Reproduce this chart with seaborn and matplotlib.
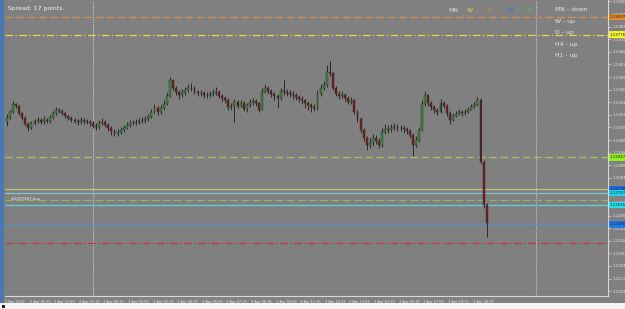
import matplotlib
matplotlib.use("Agg")
import matplotlib.pyplot as plt
import matplotlib.transforms as mtrans
from matplotlib.patches import Rectangle
import seaborn as sns
import pandas as pd

# ---------------- data ----------------
first_open = 1.13187
close = [1.13214, 1.13254, 1.13308, 1.13295, 1.13247, 1.13214, 1.13173, 1.13146, 1.13180, 1.13193,
         1.13200, 1.13187, 1.13200, 1.13193, 1.13220, 1.13247, 1.13268, 1.13261, 1.13247, 1.13227,
         1.13214, 1.13200, 1.13193, 1.13187, 1.13200, 1.13193, 1.13187, 1.13180, 1.13160, 1.13153,
         1.13180, 1.13187, 1.13166, 1.13146, 1.13126, 1.13106, 1.13119, 1.13133, 1.13146, 1.13166,
         1.13180, 1.13180, 1.13187, 1.13193, 1.13193, 1.13207, 1.13220, 1.13254, 1.13281, 1.13254,
         1.13281, 1.13308, 1.13362, 1.13470, 1.13416, 1.13389, 1.13369, 1.13382, 1.13403, 1.13416,
         1.13416, 1.13389, 1.13382, 1.13380, 1.13369, 1.13366, 1.13376, 1.13382, 1.13389, 1.13362,
         1.13349, 1.13335, 1.13288, 1.13295, 1.13322, 1.13295, 1.13315, 1.13274, 1.13301, 1.13322,
         1.13325, 1.13315, 1.13268, 1.13389, 1.13416, 1.13396, 1.13376, 1.13362, 1.13349, 1.13396,
         1.13389, 1.13382, 1.13376, 1.13369, 1.13355, 1.13342, 1.13335, 1.13315, 1.13301, 1.13288,
         1.13281, 1.13376, 1.13416, 1.13436, 1.13524, 1.13520, 1.13416, 1.13376, 1.13362, 1.13369,
         1.13349, 1.13322, 1.13335, 1.13254, 1.13207, 1.13133, 1.13079, 1.13031, 1.13045, 1.13079,
         1.13058, 1.13031, 1.13119, 1.13139, 1.13133, 1.13146, 1.13153, 1.13146, 1.13149, 1.13139,
         1.13126, 1.13099, 1.13031, 1.13065, 1.13133, 1.13308, 1.13369, 1.13315, 1.13288, 1.13268,
         1.13254, 1.13315, 1.13295, 1.13247, 1.13200, 1.13227, 1.13241, 1.13254, 1.13247, 1.13254,
         1.13268, 1.13288, 1.13301, 1.13335, 1.12917, 1.12626, 1.12505]
high = [1.13241, 1.13268, 1.13328, 1.13315, 1.13301, 1.13254, 1.13227, 1.13187, 1.13193, 1.13207,
        1.13220, 1.13214, 1.13227, 1.13214, 1.13234, 1.13261, 1.13288, 1.13281, 1.13274, 1.13254,
        1.13234, 1.13227, 1.13214, 1.13207, 1.13220, 1.13214, 1.13207, 1.13200, 1.13193, 1.13180,
        1.13200, 1.13214, 1.13200, 1.13180, 1.13160, 1.13139, 1.13139, 1.13153, 1.13166, 1.13187,
        1.13200, 1.13200, 1.13207, 1.13214, 1.13220, 1.13227, 1.13241, 1.13274, 1.13308, 1.13295,
        1.13301, 1.13335, 1.13389, 1.13490, 1.13477, 1.13430, 1.13403, 1.13409, 1.13423, 1.13443,
        1.13450, 1.13430, 1.13403, 1.13403, 1.13396, 1.13389, 1.13396, 1.13409, 1.13423, 1.13403,
        1.13376, 1.13362, 1.13349, 1.13315, 1.13342, 1.13335, 1.13335, 1.13328, 1.13315, 1.13342,
        1.13349, 1.13342, 1.13322, 1.13416, 1.13443, 1.13430, 1.13409, 1.13389, 1.13376, 1.13416,
        1.13470, 1.13409, 1.13403, 1.13396, 1.13382, 1.13369, 1.13362, 1.13342, 1.13328, 1.13315,
        1.13308, 1.13403, 1.13443, 1.13463, 1.13571, 1.13598, 1.13524, 1.13430, 1.13396, 1.13396,
        1.13382, 1.13362, 1.13355, 1.13342, 1.13268, 1.13220, 1.13146, 1.13092, 1.13079, 1.13106,
        1.13099, 1.13079, 1.13146, 1.13173, 1.13166, 1.13173, 1.13180, 1.13173, 1.13166, 1.13166,
        1.13153, 1.13139, 1.13112, 1.13092, 1.13153, 1.13335, 1.13396, 1.13376, 1.13328, 1.13301,
        1.13281, 1.13342, 1.13328, 1.13308, 1.13261, 1.13247, 1.13261, 1.13274, 1.13268, 1.13274,
        1.13288, 1.13308, 1.13322, 1.13355, 1.13349, 1.12930, 1.12640]
low = [1.13160, 1.13207, 1.13247, 1.13281, 1.13234, 1.13200, 1.13160, 1.13126, 1.13139, 1.13166,
       1.13180, 1.13173, 1.13173, 1.13180, 1.13180, 1.13207, 1.13234, 1.13247, 1.13234, 1.13214,
       1.13200, 1.13187, 1.13180, 1.13166, 1.13173, 1.13173, 1.13173, 1.13160, 1.13146, 1.13133,
       1.13139, 1.13166, 1.13153, 1.13126, 1.13099, 1.13092, 1.13092, 1.13106, 1.13119, 1.13139,
       1.13153, 1.13166, 1.13166, 1.13173, 1.13180, 1.13180, 1.13193, 1.13214, 1.13247, 1.13234,
       1.13241, 1.13268, 1.13301, 1.13355, 1.13403, 1.13369, 1.13342, 1.13355, 1.13369, 1.13389,
       1.13396, 1.13376, 1.13362, 1.13362, 1.13349, 1.13349, 1.13355, 1.13362, 1.13369, 1.13349,
       1.13328, 1.13315, 1.13268, 1.13268, 1.13187, 1.13281, 1.13288, 1.13261, 1.13254, 1.13288,
       1.13301, 1.13295, 1.13254, 1.13268, 1.13382, 1.13376, 1.13355, 1.13335, 1.13281, 1.13335,
       1.13369, 1.13362, 1.13355, 1.13342, 1.13335, 1.13322, 1.13308, 1.13281, 1.13268, 1.13254,
       1.13261, 1.13268, 1.13362, 1.13403, 1.13423, 1.13497, 1.13403, 1.13362, 1.13342, 1.13349,
       1.13328, 1.13308, 1.13308, 1.13241, 1.13187, 1.13112, 1.13058, 1.12998, 1.13011, 1.13025,
       1.13038, 1.13011, 1.13018, 1.13106, 1.13112, 1.13119, 1.13133, 1.13126, 1.13126, 1.13112,
       1.13106, 1.13079, 1.12957, 1.13018, 1.13052, 1.13126, 1.13295, 1.13295, 1.13268, 1.13247,
       1.13234, 1.13247, 1.13281, 1.13227, 1.13173, 1.13193, 1.13220, 1.13234, 1.13227, 1.13234,
       1.13247, 1.13268, 1.13281, 1.13295, 1.12903, 1.12606, 1.12410]

level_prices = [1.13897, 1.13776, 1.12947, 1.12736, 1.12707, 1.12660, 1.12626, 1.12495, 1.12370]
level_colors = ["#d4904c", "#dede4a", "#a6c45e", "#b4cc6e", "#7ec6d6", "#94b46a", "#66cfe2", "#4f8fd0", "#b83a3a"]
level_styles = [(0, (6, 3)), (0, (6, 2, 1, 2)), (0, (6, 3)), "-", "-", (0, (6, 3)), "-", "-", (0, (6, 2, 1, 2))]
box_prices = [1.13897, 1.13776, 1.12947, 1.12736, 1.12707, 1.12626, 1.12495]
box_colors = ["#e08a2c", "#f2f22a", "#8ef01c", "#1f6ef0", "#22d0f0", "#22e0f0", "#1f78ee"]

y_ticks = [1.14000, 1.13915, 1.13830, 1.13745, 1.13660, 1.13575, 1.13490, 1.13405, 1.13320,
           1.13235, 1.13150, 1.13065, 1.12980, 1.12895, 1.12810, 1.12725, 1.12640, 1.12555,
           1.12470, 1.12385, 1.12300, 1.12215, 1.12130, 1.12045]
time_labels = ["2 Apr 2012", "2 Apr 20:35", "2 Apr 21:55", "2 Apr 23:15", "3 Apr 00:35", "3 Apr 01:55",
               "3 Apr 03:15", "3 Apr 04:35", "3 Apr 05:55", "3 Apr 07:15", "3 Apr 08:35", "3 Apr 09:55",
               "3 Apr 11:15", "3 Apr 12:35", "3 Apr 13:55", "3 Apr 15:15", "3 Apr 16:35", "3 Apr 17:55",
               "3 Apr 19:15", "3 Apr 20:35"]
tf_names = ["MN", "W", "D", "H4", "H1"]
tf_colors = ["#d8d8d8", "#e0d84a", "#d8883a", "#3a78d8", "#58b84e"]
trend_text = ["MN - down", "W - up", "D - up", "H4 - up", "H1 - up"]

# ---------------- layout helpers ----------------
W, H = 625, 309
def fx(x):
    return x / W
def fy(y):
    return 1 - y / H

BG = "#808080"
sns.set_theme(style="dark", rc={"axes.facecolor": BG, "figure.facecolor": BG})
plt.rcParams["font.family"] = ["DejaVu Sans"]

fig = plt.figure(figsize=(W / 100, H / 100), dpi=100)
ax = fig.add_axes([fx(5), fy(296), fx(608) - fx(5), fy(0) - fy(296)])
ax.set_facecolor(BG)

df = pd.DataFrame({"close": close, "high": high, "low": low})
df["open"] = [first_open] + close[:-1]
df["idx"] = range(len(df))
df["bull"] = df["close"] >= df["open"]

# wicks
ax.vlines(df["idx"], df["low"], df["high"], color="#2a2a2a", lw=0.7, zorder=3)
# bodies
bottoms = df[["open", "close"]].min(axis=1)
heights = (df["close"] - df["open"]).abs().clip(lower=0.000012)
colors = ["#3a8f3a" if b else "#7a1e1e" for b in df["bull"]]
ax.bar(df["idx"], heights, bottom=bottoms, width=0.62, color=colors,
       edgecolor="#262626", linewidth=0.3, zorder=4)

# horizontal levels
for p, c, ls in zip(level_prices, level_colors, level_styles):
    ax.axhline(p, color=c, lw=0.9, linestyle=ls, zorder=2)

# period separators (day starts)
day0 = 27.9
for xs in (day0, day0 + 144):
    ax.axvline(xs, color="#d0d0d0", lw=0.8, linestyle=(0, (1, 1.2)), zorder=1)

ax.set_xlim(-0.33, 195.45)
ax.set_ylim(1.12012, 1.14010)

# axes styling
for s in ("left", "top"):
    ax.spines[s].set_visible(False)
for s in ("right", "bottom"):
    ax.spines[s].set_color("#d8d8d8")
    ax.spines[s].set_linewidth(0.8)
ax.grid(False)

ax.yaxis.tick_right()
ax.set_yticks(y_ticks)
ax.set_yticklabels([f"{v:.5f}" for v in y_ticks])
ax.tick_params(axis="y", length=2, width=0.5, color="#d8d8d8", labelsize=2.9,
               labelcolor="#ececec", pad=1)

# time labels: 80-minute steps, 10 minutes per bar; 00:35 sits 3.5 bars after the day start
label_pos = [day0 + 3.5 - 32 + 8 * k for k in range(len(time_labels))]
ax.set_xticks(label_pos)
ax.set_xticklabels(time_labels)
ax.tick_params(axis="x", length=2.5, width=0.5, color="#d8d8d8", labelsize=2.5,
               labelcolor="#ececec", pad=0.5, direction="out")
for lab in ax.get_xticklabels():
    lab.set_horizontalalignment("left")

# price boxes on the price axis
tr = mtrans.blended_transform_factory(ax.transAxes, ax.transData)
for p, c in zip(box_prices, box_colors):
    ax.text(1.003, p, f"{p:.5f}", transform=tr, fontsize=2.8, color="#202020",
            va="center", ha="left", clip_on=False, zorder=6,
            bbox=dict(boxstyle="square,pad=0.3", facecolor=c, edgecolor="none"))

# texts
fig.text(fx(7), fy(-1.5), "EURUSD,M5  1.12530 1.12530 1.12410 1.12505", fontsize=4,
         color="#f0f0f0", va="center", ha="left")
fig.text(fx(8), fy(8.5), "Spread: 17 points.", fontsize=4.4, color="#f4f4f4",
         va="center", ha="left")
tf_x = [448, 467, 486, 506, 524]
for x, t, c in zip(tf_x, tf_names, tf_colors):
    fig.text(fx(x), fy(10), t, fontsize=4.4, color=c, va="center", ha="left")
for k, t in enumerate(trend_text):
    fig.text(fx(555), fy(9.5 + 11.6 * k), t, fontsize=4.4, color="#e8e8e8",
             va="center", ha="left")
ax.text(1.5, 1.12666, "#2297867 buy", fontsize=2.8, color="#f0f0f0", va="center",
        ha="left", zorder=6)

# window chrome: left toolbar strip and bottom tab bar
fig.patches.append(Rectangle((0, fy(303)), fx(4), fy(0) - fy(303), transform=fig.transFigure,
                             facecolor="#4a78b4", edgecolor="none", zorder=10))
fig.patches.append(Rectangle((0, 0), 1, fy(303), transform=fig.transFigure,
                             facecolor="#f4f4f4", edgecolor="none", zorder=10))
fig.patches.append(Rectangle((fx(2), fy(308)), fx(3), fy(305) - fy(308), transform=fig.transFigure,
                             facecolor="#202020", edgecolor="none", zorder=11))

fig.savefig("out.png", dpi=100, facecolor=BG)
